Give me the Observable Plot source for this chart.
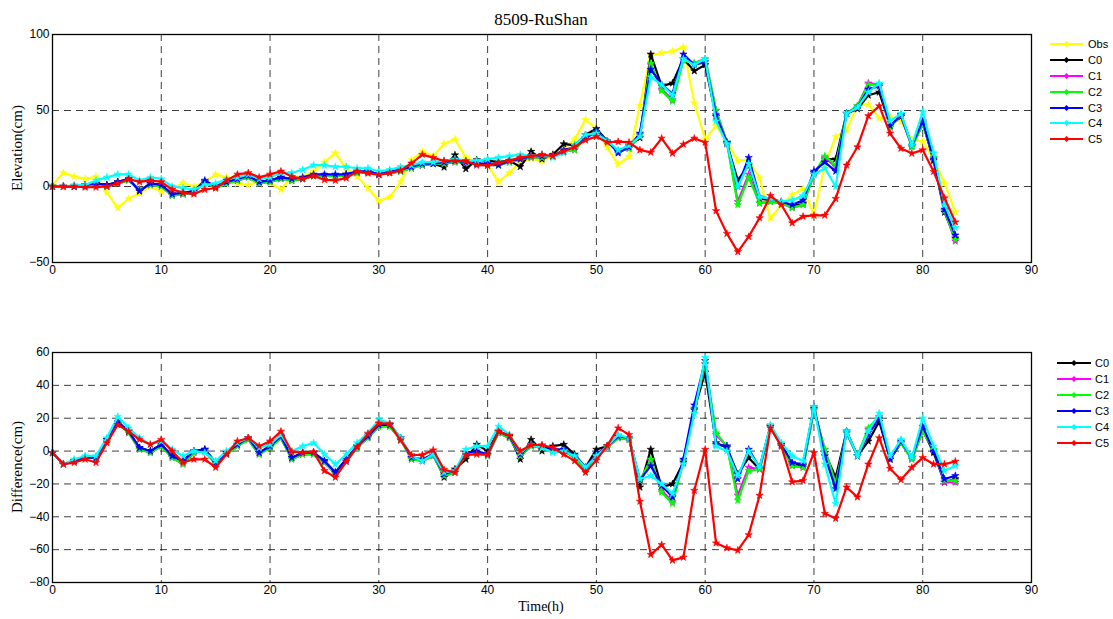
<!DOCTYPE html>
<html><head><meta charset="utf-8">
<script src="https://cdn.jsdelivr.net/npm/d3@7"></script>
<script src="https://cdn.jsdelivr.net/npm/@observablehq/plot@0.6"></script>
<style>
body{margin:0;background:#fff;}
#fig{position:relative;width:1113px;height:619px;overflow:hidden;font-family:"Liberation Sans",Arial,sans-serif;background:#fff;}
.abs{position:absolute;white-space:nowrap;line-height:1;}
.serif{font-family:"Liberation Serif","Times New Roman",serif;}
</style></head><body><div id="fig"></div>
<script>
// ---- data ----
const xTicks = [0,10,20,30,40,50,60,70,80,90];
const elevTicks = [-50,0,50,100];
const diffTicks = [-80,-60,-40,-20,0,20,40,60];
const seriesNames = ["Obs","C0","C1","C2","C3","C4","C5"];
const seriesColors = ["#ffff00","#000000","#ff00ff","#00ff00","#0000ff","#00ffff","#ff0000"];

const obsElev = [1,9,6.5,5,6.5,-4,-14,-8,-4.5,0,
 -3.5,-1.5,2.5,0,3,8,6,2,1,3.5,
 2.5,-2,6.5,6.5,10,16,22,12,6.5,-1,
 -9.5,-7,3,17.5,23,20,28,31,19,16,
 14,3,9,16,18.5,16.5,20,25,31,44,
 38,25.5,14.6,19.7,53.5,86,88,89,91.7,55,
 31,40,29,17,17.5,5.5,-21,-12,-5.5,-1.5,
 -18.5,14,32.8,37,53.5,54,45,45.5,42.6,30.6,
 29.5,18,2.2,-16.8];
const c0Elev = [0,0,0,1,2,1,3,5,-3,2,
 1,-5,-5,-3,3,0,3,4,7,3,
 4,6,4,5,7,7,7,8,9,10,
 8,9,10,13,14,15,12.7,20.7,11.6,17.5,
 17,16,17,13,23,18,21,28,27,34,
 38,30,23,27,32,87,66,68,84,76,
 80,46,28,4,14,-8,-9,-10,-13,-11,
 9,18,18,48,51,60,62,40,46,27,
 42,17,-17,-34];
const c1Elev = [0,0,0,0,1,0,2,4,-2,1,
 0,-6,-5,-4,3,-1,2,4,6,2,
 3,5,4,5,7,7,7,7,9,9,
 8,9,10,12,14,15,15,16,16,15,
 14,14,16,18,19,19,20,23,24,32,
 36,30,23,25,34,80,64,57,84,81,
 84,50,29,-10,8,-11,-10,-11,-14,-12,
 8,19,13,48,53,68,67,39,47,26,
 41,19,-16,-36];
const c2Elev = [0,0,0,0,1,0,2,4,-2,1,
 0,-6,-5,-4,3,-1,2,4,6,2,
 3,5,4,5,7,7,7,7,9,9,
 8,9,10,12,14,15,15,16,16,15,
 14,14,16,18,19,19,20,23,24,32,
 36,30,23,25,34,81,63,56,83,81,
 84,50,29,-12,6,-11,-10,-11,-14,-12,
 8,20,14,48,53,67,67,39,47,26,
 41,19,-16,-35];
const c3Elev = [0,0,0,1,2,1,3,5,-3,2,
 1,-5,-4,-3,4,0,3,5,7,3,
 4,6,5,6,8,8,8,8,10,10,
 8,10,11,13,15,15,16,17,16,15,
 15,14,17,18,20,20,20,24,26,32,
 36,30,22,26,35,77,67,61,87,80,
 82,47,29,0,19,-7,-8,-10,-12,-9,
 10,16,10,48,52,64,66,40,47,27,
 43,18,-15,-32];
const c4Elev = [0,0,1,1,4,6,8,8,4,6,
 5,0,-1,-2,1,2,5,6,8,5,
 6,9,9,11,14,14,13,13,12,12,
 10,11,13,14,16,16,17,18,17,17,
 18,19,20,21,20,21,19,22,27,34,
 35,30,24,27,33,72,67,60,84,80,
 84,43,28,0,15,-7,-8,-10,-9,-6,
 8,12,0,48,52,62,68,43,48,27,
 49,22,-12,-27];
const c5Elev = [0,0,0,-0.5,-0.5,0,2,5,3,4,
 3,-2,-4,-5,-2,-1,4,8,9,6,
 8,10,6.5,5,7,4.4,4,5.5,10,8.7,
 7.6,9,10.5,15.3,21,19,16.8,16.8,16.8,14,
 13.8,15.7,17,19,20,21,20,23,26,30.5,
 32.8,29,29.5,29,24,22.5,31.7,21.8,27.7,31.7,
 29,-16,-31,-43,-33,-20.7,-6,-12,-24,-19.7,
 -19,-19,-8,14,26,46.5,53,35,25,21.8,
 24,9.8,-7.6,-23.4];

const c0Diff = [-1,-8,-6,-4,-4,7,17,12,2,0,
 4,-3,-6,0,1,-7,-1,4,8,-1,
 3,9,-4,-1,-1,-6,-13,-5,3,9,
 16,16,8,-4,-6,-2,-16,-11,-5,4,
 0,12,9,-5,7,0,3,4,-2,-10,
 1,3,9,8,-22,1,-22,-20,-7,25,
 48,5,2,-14,-4,-11,15,4,-8,-9,
 26,-1,-16,12,-3,6,18,-5,5,-4,
 13,-1,-19,-17];
const c1Diff = [-1,-8,-6,-4,-4,6,17,11,1,-1,
 3,-4,-8,-1,0,-8,-2,3,7,-2,
 2,8,-5,-2,-2,-7,-14,-6,2,8,
 15,15,7,-5,-6,-3,-15,-13,-2,-1,
 -3,11,8,-3,3,2,0,0,-4,-11,
 -3,2,8,7,-18,-6,-24,-31,-6,26,
 53,10,3,-27,-10,-11,15,3,-9,-10,
 25,1,-20,11,-3,13,21,-4,5,-5,
 12,1,-19,-19];
const c2Diff = [-1,-8,-6,-4,-4,6,17,11,1,-1,
 3,-4,-8,-1,0,-8,-2,3,7,-2,
 2,8,-5,-2,-2,-7,-14,-6,2,8,
 15,15,7,-5,-6,-3,-15,-13,-2,-1,
 -3,11,8,-3,3,2,0,0,-4,-11,
 -3,2,8,7,-18,-5,-25,-32,-6,26,
 53,11,3,-30,-12,-11,15,3,-9,-10,
 25,1,-20,11,-3,14,21,-4,5,-5,
 12,1,-18,-18];
const c3Diff = [-1,-8,-6,-4,-4,7,18,12,2,0,
 4,-3,-6,0,1,-7,-1,4,8,-1,
 3,9,-4,-1,-1,-6,-13,-5,3,9,
 16,16,8,-4,-5,-2,-14,-12,-1,0,
 -2,12,9,-2,4,3,1,1,-3,-10,
 -2,3,9,8,-17.5,-9,-21,-28,-5,28,
 55,4,3,-17,1,-10,15,4,-7,-8,
 27,-3,-23,12,-3,10,20,-5,6,-4,
 15,0,-17,-15];
const c4Diff = [-1,-8,-5,-3,-3,8,21,14,8,4,
 6,1,-3,0,-1,-6,0,5,8,2,
 4,10,0,3,5,-2,-8,-2,5,11,
 19,17,8,-3,-6,-2,-13,-12,1,3,
 3,15,10,-1,4,2,-1,0,-3,-10,
 -3,3,10,8,-17,-15,-20,-26,-8,23,
 57,3,0,-15,0,-10,16,5,-3,-6,
 27,-8,-32,12,-3,12,23,-3,7,-4,
 20,3,-12,-9];
const c5Diff = [-1,-8,-7,-5,-7,5,16,12,7,4,
 7,0,-7,-5,-5,-10,-2,6,8,3,
 6,12,-0.5,-1,-0.5,-12,-16,-6.5,2.6,10.4,
 17,16.5,6.5,-2.4,-2.4,0.6,-11.4,-13,-2.4,-2,
 -2,12,9.4,0,3.7,3.7,2,-2,-6,-13,
 -5.5,3.3,14,10,-30.6,-63,-57,-66.5,-64.7,-24,
 1,-56,-59,-60.4,-51,-27,14,3,-18.8,-18,
 -1,-38,-41,-22,-28,-8,8,-10.6,-17.5,-10,
 -4,-8,-8,-6.3];

// ---- drawing ----
const fig = document.getElementById("fig");
const FONT = "'Liberation Sans', Arial, sans-serif";

function addText(txt, x, y, opts = {}) {
  const d = document.createElement("div");
  d.className = "abs" + (opts.serif ? " serif" : "");
  d.textContent = txt;
  d.style.fontSize = (opts.size || 11) + "px";
  d.style.left = x + "px";
  d.style.top = y + "px";
  d.style.transform = "translate(" + (opts.ax ?? -50) + "%," + (opts.ay ?? -50) + "%)" + (opts.rotate ? " rotate(-90deg)" : "");
  fig.appendChild(d);
}

function panel(seriesList, yDomain, yTicks, top, height, mt, mb) {
  const marks = [];
  const grid = {stroke: "#000", strokeDasharray: "7,5", strokeWidth: 0.9, strokeOpacity: 0.85};
  marks.push(Plot.ruleX(xTicks.filter(v => v > 0 && v < 90), grid));
  marks.push(Plot.ruleY(yTicks.filter(v => v > yDomain[0] && v < yDomain[1]), grid));
  for (const s of seriesList) {
    const data = s.values.map((v, i) => ({t: i, v}));
    marks.push(Plot.line(data, {x: "t", y: "v", stroke: s.color, strokeWidth: 2.2}));
    marks.push(Plot.dot(data, {x: "t", y: "v", fill: s.color, stroke: s.color, strokeWidth: 0.6, r: 2.3, symbol: "star"}));
  }
  marks.push(Plot.frame({stroke: "#000", strokeWidth: 1.3}));
  marks.push(Plot.axisX({ticks: xTicks, tickSize: 0, tickPadding: 3, label: null}));
  marks.push(Plot.axisY({ticks: yTicks, tickSize: 0, tickPadding: 3, label: null}));
  const svg = Plot.plot({
    width: 1113, height,
    marginLeft: 52, marginRight: 82, marginTop: mt, marginBottom: mb,
    x: {domain: [0, 90]},
    y: {domain: yDomain},
    style: {fontFamily: FONT, fontSize: "12px", color: "#000", background: "transparent", overflow: "visible"},
    marks
  });
  svg.style.position = "absolute";
  svg.style.left = "0px";
  svg.style.top = top + "px";
  fig.appendChild(svg);
}

function legend(names, colors, x0, x1, tx, y0, dy) {
  names.forEach((n, i) => {
    const y = y0 + dy * i;
    const ns = "http://www.w3.org/2000/svg";
    const svg = document.createElementNS(ns, "svg");
    svg.setAttribute("width", x1 - x0 + 6);
    svg.setAttribute("height", 12);
    svg.style.position = "absolute";
    svg.style.left = (x0 - 3) + "px";
    svg.style.top = (y - 6) + "px";
    const ln = document.createElementNS(ns, "line");
    ln.setAttribute("x1", 3); ln.setAttribute("x2", x1 - x0 + 3);
    ln.setAttribute("y1", 6); ln.setAttribute("y2", 6);
    ln.setAttribute("stroke", colors[i]); ln.setAttribute("stroke-width", 2.2);
    svg.appendChild(ln);
    const cx = (x1 - x0) / 2 + 3;
    const dm = document.createElementNS(ns, "path");
    dm.setAttribute("d", `M${cx},3L${cx+3},6L${cx},9L${cx-3},6Z`);
    dm.setAttribute("fill", colors[i]);
    svg.appendChild(dm);
    fig.appendChild(svg);
    addText(n, tx, y, {ax: 0, size: 11});
  });
}

const topSeries = [obsElev, c0Elev, c1Elev, c2Elev, c3Elev, c4Elev, c5Elev]
  .map((values, i) => ({values, color: seriesColors[i]}));
const botSeries = [c0Diff, c1Diff, c2Diff, c3Diff, c4Diff, c5Diff]
  .map((values, i) => ({values, color: seriesColors[i + 1]}));

panel(topSeries, [-50, 100], elevTicks, 0, 290, 34, 28);
panel(botSeries, [-80, 60], diffTicks, 290, 329, 62, 37);

addText("8509-RuShan", 541, 19, {serif: true, size: 17});
addText("Elevation(cm)", 17, 148, {serif: true, size: 15, rotate: true});
addText("Difference(cm)", 17, 467, {serif: true, size: 15, rotate: true});
addText("Time(h)", 541, 607, {serif: true, size: 14});

legend(seriesNames, seriesColors, 1050, 1083, 1088, 44.3, 15.8);
legend(seriesNames.slice(1), seriesColors.slice(1), 1057, 1091, 1095, 362.7, 16.1);
</script></body></html>
